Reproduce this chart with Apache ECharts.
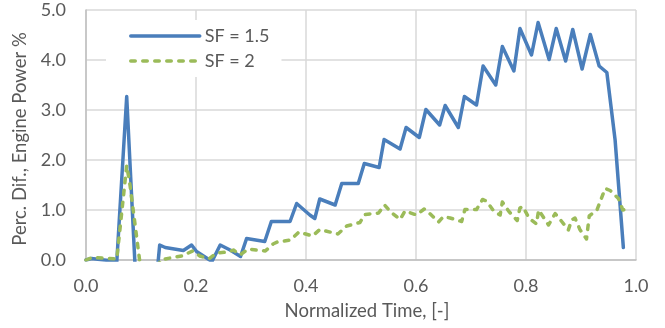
<!DOCTYPE html>
<html>
<head>
<meta charset="utf-8">
<script src="https://cdn.jsdelivr.net/npm/echarts@6/dist/echarts.min.js"></script>
<style>
  html, body { margin: 0; padding: 0; background: #ffffff; }
  #chart { width: 665px; height: 328px; }
</style>
</head>
<body>
<div id="chart"></div>
<script>
// Normalized time and percentage difference of engine power, SF = 1.5
const timeSF15 = [0, 0.010, 0.056, 0.074, 0.090, 0.110, 0.128, 0.134, 0.144, 0.177, 0.192, 0.201, 0.229, 0.244, 0.262, 0.281, 0.292, 0.325, 0.337, 0.371, 0.383, 0.407, 0.416, 0.425, 0.453, 0.465, 0.495, 0.506, 0.533, 0.542, 0.571, 0.582, 0.606, 0.618, 0.643, 0.653, 0.677, 0.688, 0.710, 0.722, 0.745, 0.757, 0.778, 0.789, 0.810, 0.822, 0.842, 0.855, 0.872, 0.885, 0.902, 0.917, 0.933, 0.947, 0.962, 0.977];
const diffSF15 = [0, 0.03, -0.03, 3.27, -0.30, -0.40, -0.40, 0.30, 0.25, 0.19, 0.30, 0.17, -0.03, 0.30, 0.20, 0.07, 0.43, 0.37, 0.77, 0.77, 1.13, 0.90, 0.83, 1.22, 1.10, 1.53, 1.53, 1.93, 1.85, 2.41, 2.22, 2.65, 2.45, 3.01, 2.70, 3.09, 2.65, 3.27, 3.10, 3.88, 3.50, 4.27, 3.78, 4.63, 4.10, 4.75, 4.01, 4.63, 3.98, 4.61, 3.82, 4.51, 3.88, 3.75, 2.40, 0.25];

// Same quantity for SF = 2
const timeSF2 = [0, 0.011, 0.056, 0.074, 0.080, 0.098, 0.115, 0.130, 0.135, 0.153, 0.174, 0.194, 0.207, 0.223, 0.237, 0.259, 0.268, 0.280, 0.295, 0.326, 0.340, 0.348, 0.372, 0.387, 0.412, 0.425, 0.458, 0.474, 0.498, 0.507, 0.532, 0.543, 0.553, 0.571, 0.580, 0.601, 0.615, 0.626, 0.641, 0.650, 0.662, 0.683, 0.689, 0.710, 0.721, 0.728, 0.742, 0.753, 0.757, 0.769, 0.784, 0.789, 0.794, 0.806, 0.819, 0.823, 0.829, 0.841, 0.853, 0.865, 0.877, 0.883, 0.889, 0.898, 0.910, 0.915, 0.929, 0.944, 0.953, 0.968, 0.976, 0.989];
const diffSF2 = [0, 0.05, 0.02, 1.89, 1.50, -0.05, -0.30, -0.20, 0.00, 0.04, 0.08, 0.18, 0.08, 0.02, 0.14, 0.16, 0.20, 0.10, 0.22, 0.18, 0.32, 0.36, 0.40, 0.56, 0.48, 0.61, 0.52, 0.68, 0.75, 0.91, 0.94, 1.10, 0.97, 0.81, 0.98, 0.90, 1.02, 0.92, 0.76, 0.87, 0.84, 0.77, 1.01, 1.01, 1.21, 1.18, 0.97, 0.90, 1.16, 0.97, 0.79, 1.04, 1.07, 0.83, 0.72, 1.00, 0.90, 0.70, 0.93, 0.77, 0.60, 0.80, 0.84, 0.61, 0.42, 0.88, 1.00, 1.43, 1.39, 1.23, 1.00, 1.03];

const seriesNames = ['SF = 1.5', 'SF = 2'];
const xTitle = 'Normalized Time, [-]';
const yTitle = 'Perc. Dif., Engine Power %';

const pairs = (xs, ys) => xs.map((x, i) => [x, ys[i]]);

const FONT = 'Lato, "Open Sans", sans-serif';
const TEXT = '#595959';
const GRID = '#d9d9d9';
const BLUE = '#4a7ebb';
const GREEN = '#9bbb59';
const GREEN_DASH = [4.5, 7.5];

const chart = echarts.init(document.getElementById('chart'), null, { renderer: 'canvas' });

chart.setOption({
  animation: false,
  backgroundColor: '#ffffff',
  textStyle: { fontFamily: FONT, color: TEXT },
  grid: { left: 86, right: 29, top: 10, bottom: 68, containLabel: false },
  legend: {
    orient: 'vertical',
    left: 106,
    top: 20,
    padding: [6, 12, 6, 23],
    backgroundColor: '#ffffff',
    itemWidth: 69,
    itemHeight: 20,
    itemGap: 5,
    // line-only keys: the marker in the middle is made invisible
    itemStyle: { opacity: 0 },
    textStyle: { fontFamily: FONT, fontSize: 18, color: TEXT, lineHeight: 20 },
    data: [
      { name: seriesNames[0], lineStyle: { color: BLUE, width: 3.5, cap: 'round' } },
      { name: seriesNames[1], lineStyle: { color: GREEN, width: 3.5, type: GREEN_DASH, cap: 'round' } }
    ]
  },
  xAxis: {
    type: 'value',
    min: 0, max: 1, interval: 0.2,
    name: xTitle,
    nameLocation: 'middle',
    nameGap: 42,
    nameTextStyle: { fontFamily: FONT, fontSize: 18.5, color: TEXT, padding: [0, 0, 0, 12] },
    axisLine: { show: true, lineStyle: { color: '#bfbfbf', width: 1.5 } },
    axisTick: { show: false },
    axisLabel: { fontFamily: FONT, fontSize: 18, color: TEXT, margin: 17, formatter: v => v.toFixed(1) },
    splitLine: { show: true, lineStyle: { color: GRID, width: 1.5 } }
  },
  yAxis: {
    type: 'value',
    min: 0, max: 5, interval: 1,
    name: yTitle,
    nameLocation: 'middle',
    nameGap: 55,
    nameTextStyle: { fontFamily: FONT, fontSize: 18.5, color: TEXT, padding: [0, 8, 0, 0] },
    axisLine: { show: true, lineStyle: { color: '#bfbfbf', width: 1.5 } },
    axisTick: { show: false },
    axisLabel: { fontFamily: FONT, fontSize: 18, color: TEXT, margin: 20, formatter: v => v.toFixed(1) },
    splitLine: { show: true, lineStyle: { color: GRID, width: 1.5 } }
  },
  series: [
    {
      name: seriesNames[0],
      type: 'line',
      data: pairs(timeSF15, diffSF15),
      showSymbol: false,
      symbol: 'none',
      clip: true,
      color: BLUE,
      lineStyle: { color: BLUE, width: 3.5, join: 'round', cap: 'round' }
    },
    {
      name: seriesNames[1],
      type: 'line',
      data: pairs(timeSF2, diffSF2),
      showSymbol: false,
      symbol: 'none',
      clip: true,
      color: GREEN,
      lineStyle: { color: GREEN, width: 3.5, type: GREEN_DASH, cap: 'round', join: 'round' }
    }
  ]
});
</script>
</body>
</html>
